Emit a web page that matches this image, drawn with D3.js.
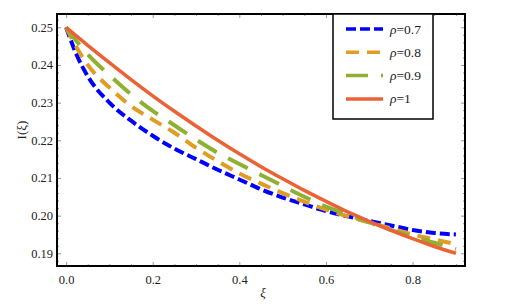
<!DOCTYPE html>
<html>
<head>
<meta charset="utf-8">
<script src="https://cdn.jsdelivr.net/npm/d3@7"></script>
<style>
  body { margin: 0; background: #fff; }
  text { font-family: "Liberation Serif", "Times New Roman", serif; fill: #222; }
</style>
</head>
<body>
<div id="chart"></div>
<script>
const SVG_WIDTH = 524;
const SVG_HEIGHT = 306;

// xi sample points and the four curves
const xi = [0, 0.025, 0.05, 0.1, 0.15, 0.2, 0.25, 0.3, 0.35, 0.4, 0.45, 0.5, 0.55, 0.6, 0.65, 0.7, 0.75, 0.8, 0.85, 0.9];
const rho07 = [0.2500, 0.2425, 0.2370, 0.2300, 0.2252, 0.2212, 0.2178, 0.2150, 0.2122, 0.2096, 0.2070, 0.2048, 0.2030, 0.2012, 0.1998, 0.1986, 0.1974, 0.1962, 0.1954, 0.1950];
const rho08 = [0.2500, 0.2445, 0.2400, 0.2340, 0.2291, 0.2255, 0.2220, 0.2180, 0.2145, 0.2112, 0.2085, 0.2060, 0.2037, 0.2016, 0.1998, 0.1982, 0.1966, 0.1950, 0.1937, 0.1924];
const rho09 = [0.2500, 0.2462, 0.2428, 0.2373, 0.2322, 0.2278, 0.2240, 0.2202, 0.2167, 0.2137, 0.2108, 0.2079, 0.2050, 0.2024, 0.2003, 0.1982, 0.1962, 0.1944, 0.1928, 0.1911];
const rho10 = [0.2500, 0.2476, 0.2452, 0.2406, 0.2361, 0.2318, 0.2277, 0.2238, 0.2200, 0.2164, 0.2130, 0.2098, 0.2067, 0.2038, 0.2010, 0.1985, 0.1961, 0.1939, 0.1918, 0.1900];

const seriesNames = ["0.7", "0.8", "0.9", "1"];
const seriesValues = [rho07, rho08, rho09, rho10];

const xTicks = [0.0, 0.2, 0.4, 0.6, 0.8];
const yTicks = [0.19, 0.20, 0.21, 0.22, 0.23, 0.24, 0.25];

const COLORS = ["#0000ff", "#e19c24", "#8fb032", "#eb6235"];
const DASHES = ["10,4", "13,8", "22,13", null];

const FRAME = { left: 57, right: 465, top: 14, bottom: 266 };

const svg = d3.select("#chart")
  .append("svg")
  .attr("width", SVG_WIDTH)
  .attr("height", SVG_HEIGHT);

const x = d3.scaleLinear().domain([-0.021, 0.921]).range([FRAME.left, FRAME.right]);
const y = d3.scaleLinear().domain([0.18663, 0.25353]).range([FRAME.bottom, FRAME.top]);

// minor ticks every 0.05 on x and 0.002 on y
const xMinor = d3.range(0, 0.9001, 0.05).filter(v => !xTicks.some(t => Math.abs(t - v) < 1e-9));
const yMinor = d3.range(0.188, 0.2531, 0.002).filter(v => !yTicks.some(t => Math.abs(t - v) < 1e-9));

function styleTicks(g) {
  g.select(".domain").remove();
  g.selectAll(".tick line").attr("stroke", "#999").attr("stroke-width", 1);
}

// bottom and top
svg.append("g")
  .attr("transform", `translate(0,${FRAME.bottom})`)
  .call(d3.axisBottom(x).tickValues(xTicks).tickSize(-4).tickPadding(9).tickFormat(d3.format(".1f")))
  .call(styleTicks)
  .call(g => g.selectAll("text").attr("font-size", 12.5).attr("font-family", "Liberation Serif"));
svg.append("g")
  .attr("transform", `translate(0,${FRAME.bottom})`)
  .call(d3.axisBottom(x).tickValues(xMinor).tickSize(-2).tickFormat(""))
  .call(styleTicks);
svg.append("g")
  .attr("transform", `translate(0,${FRAME.top})`)
  .call(d3.axisTop(x).tickValues(xTicks).tickSize(-4).tickFormat(""))
  .call(styleTicks);
svg.append("g")
  .attr("transform", `translate(0,${FRAME.top})`)
  .call(d3.axisTop(x).tickValues(xMinor).tickSize(-2).tickFormat(""))
  .call(styleTicks);

// left and right
svg.append("g")
  .attr("transform", `translate(${FRAME.left},0)`)
  .call(d3.axisLeft(y).tickValues(yTicks).tickSize(-4).tickPadding(4).tickFormat(d3.format(".2f")))
  .call(styleTicks)
  .call(g => g.selectAll("text").attr("font-size", 12.5).attr("font-family", "Liberation Serif"));
svg.append("g")
  .attr("transform", `translate(${FRAME.left},0)`)
  .call(d3.axisLeft(y).tickValues(yMinor).tickSize(-2).tickFormat(""))
  .call(styleTicks);
svg.append("g")
  .attr("transform", `translate(${FRAME.right},0)`)
  .call(d3.axisRight(y).tickValues(yTicks).tickSize(-4).tickFormat(""))
  .call(styleTicks);
svg.append("g")
  .attr("transform", `translate(${FRAME.right},0)`)
  .call(d3.axisRight(y).tickValues(yMinor).tickSize(-2).tickFormat(""))
  .call(styleTicks);

// curves
const clip = svg.append("clipPath").attr("id", "plot-clip")
  .append("rect")
  .attr("x", FRAME.left).attr("y", FRAME.top)
  .attr("width", FRAME.right - FRAME.left).attr("height", FRAME.bottom - FRAME.top);

const line = d3.line()
  .x(d => x(d[0]))
  .y(d => y(d[1]))
  .curve(d3.curveMonotoneX);

seriesValues.forEach((vals, i) => {
  svg.append("path")
    .datum(xi.map((v, j) => [v, vals[j]]))
    .attr("clip-path", "url(#plot-clip)")
    .attr("fill", "none")
    .attr("stroke", COLORS[i])
    .attr("stroke-width", i === 3 ? 3.5 : 4)
    .attr("stroke-dasharray", DASHES[i])
    .attr("d", line);
});

// frame
svg.append("rect")
  .attr("x", FRAME.left).attr("y", FRAME.top)
  .attr("width", FRAME.right - FRAME.left).attr("height", FRAME.bottom - FRAME.top)
  .attr("fill", "none")
  .attr("stroke", "#000")
  .attr("stroke-width", 2);

// legend
const legend = svg.append("g");
legend.append("rect")
  .attr("x", 333).attr("y", 14)
  .attr("width", 100).attr("height", 105)
  .attr("fill", "#fff")
  .attr("stroke", "#000")
  .attr("stroke-width", 1.5);

seriesNames.forEach((name, i) => {
  const ly = 29 + i * 23.3;
  legend.append("line")
    .attr("x1", 346).attr("x2", 383)
    .attr("y1", ly).attr("y2", ly)
    .attr("stroke", COLORS[i])
    .attr("stroke-width", 3.5)
    .attr("stroke-dasharray", DASHES[i]);
  const t = legend.append("text")
    .attr("x", 390).attr("y", ly + 4.5)
    .attr("font-size", 13.5);
  t.append("tspan").attr("font-style", "italic").text("ρ");
  t.append("tspan").text("=" + name);
});

// axis labels
svg.append("text")
  .attr("transform", "translate(26,130) rotate(-90)")
  .attr("text-anchor", "middle")
  .attr("font-size", 13)
  .text("I(ξ)");

svg.append("text")
  .attr("x", 263).attr("y", 297)
  .attr("text-anchor", "middle")
  .attr("font-size", 13)
  .attr("font-style", "italic")
  .text("ξ");
</script>
</body>
</html>
